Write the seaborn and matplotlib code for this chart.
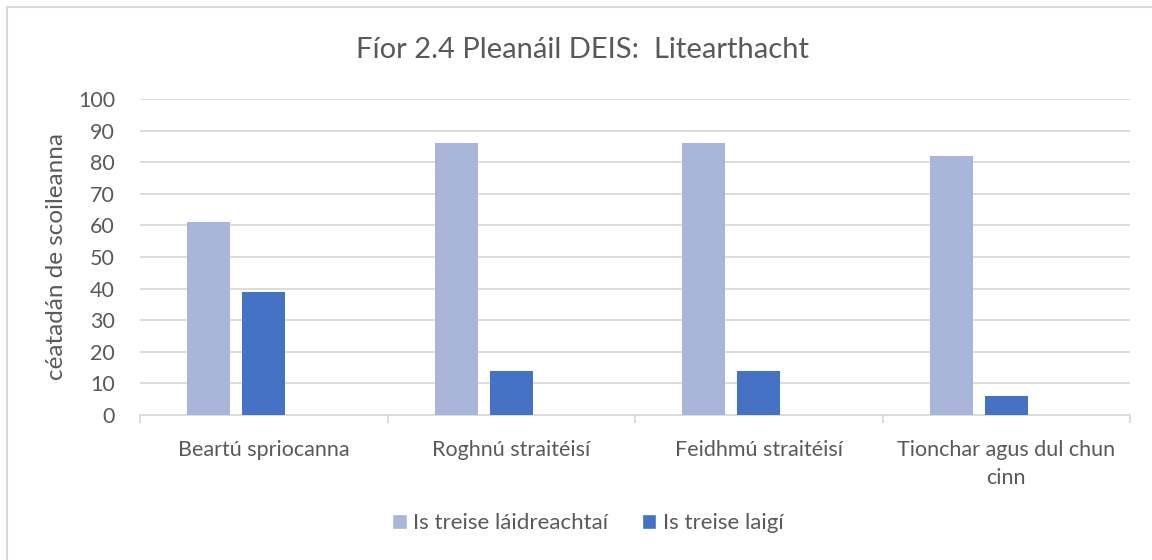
import matplotlib
matplotlib.use("Agg")
import matplotlib.pyplot as plt
from matplotlib.lines import Line2D
from matplotlib.patches import Patch
import seaborn as sns
import pandas as pd

categories = ["Beartú spriocanna", "Roghnú straitéisí", "Feidhmú straitéisí", "Tionchar agus dul chun\ncinn"]
series_names = ["Is treise láidreachtaí", "Is treise laigí", "_blank"]
strengths = [61, 86, 86, 82]
weaknesses = [39, 14, 14, 6]
blank = [0, 0, 0, 0]
colors = ["#A9B6DA", "#4472C4", "#FFFFFF"]
title = "Fíor 2.4 Pleanáil DEIS:  Litearthacht"
ylabel = "céatadán de scoileanna"
yticks = list(range(0, 101, 10))

rows = []
for c, a, b, z in zip(categories, strengths, weaknesses, blank):
    rows.append((c, series_names[0], a))
    rows.append((c, series_names[1], b))
    rows.append((c, series_names[2], z))
df = pd.DataFrame(rows, columns=["cat", "series", "val"])

sns.set_theme(style="white")
plt.rcParams["font.family"] = ["Lato", "DejaVu Sans"]
text_col = "#595959"
grid_col = "#D9D9D9"

fig = plt.figure(figsize=(11.52, 5.60), dpi=100)
ax = fig.add_axes([140/1152, 1-415/560, (1130-140)/1152, (415-99)/560])

sns.barplot(data=df, x="cat", y="val", hue="series", order=categories,
            hue_order=series_names, palette=colors, saturation=1, width=0.667, gap=0.22,
            linewidth=0, legend=False, ax=ax, zorder=3)

ax.set_ylim(0, 100)
ax.set_xlim(-0.5, 3.5)
ax.set_yticks(yticks)
ax.set_yticklabels([str(t) for t in yticks])
ax.yaxis.grid(True, color=grid_col, linewidth=1.3, zorder=0)
ax.set_axisbelow(True)
for s in ["top", "right", "left"]:
    ax.spines[s].set_visible(False)
ax.spines["bottom"].set_color(grid_col)
ax.spines["bottom"].set_linewidth(1.3)
ax.set_xticks(range(len(categories)))
ax.set_xticklabels(categories, linespacing=1.5)
ax.set_xticks([-0.5, 0.5, 1.5, 2.5, 3.5], minor=True)
ax.tick_params(axis="x", which="major", length=0, pad=18, labelsize=15.5, labelcolor=text_col)
ax.tick_params(axis="x", which="minor", length=6, width=1.3, color=grid_col, bottom=True)
ax.tick_params(axis="y", length=0, pad=18, labelsize=15.5, labelcolor=text_col)
ax.set_xlabel("")
ax.set_ylabel(ylabel, fontsize=17.5, color=text_col, labelpad=8)

fig.text(583/1152, 1-50/560, title, ha="center", va="center", fontsize=21, color=text_col)

handles = [Patch(facecolor=colors[0]), Patch(facecolor=colors[1])]
fig.legend(handles, series_names[:2], loc="center", bbox_to_anchor=(588/1152, 1-523/560),
           ncol=2, frameon=False, fontsize=16, labelcolor=text_col,
           handlelength=0.65, handleheight=0.65, handletextpad=0.3, columnspacing=1.5)

fig.add_artist(Line2D([7/1152, 7/1152], [0, 1-7/560], transform=fig.transFigure, color="#D9D9D9", linewidth=1.5))
fig.add_artist(Line2D([7/1152, 1], [1-7/560, 1-7/560], transform=fig.transFigure, color="#D9D9D9", linewidth=1.5))

fig.savefig("out.png", dpi=100, facecolor="white")
